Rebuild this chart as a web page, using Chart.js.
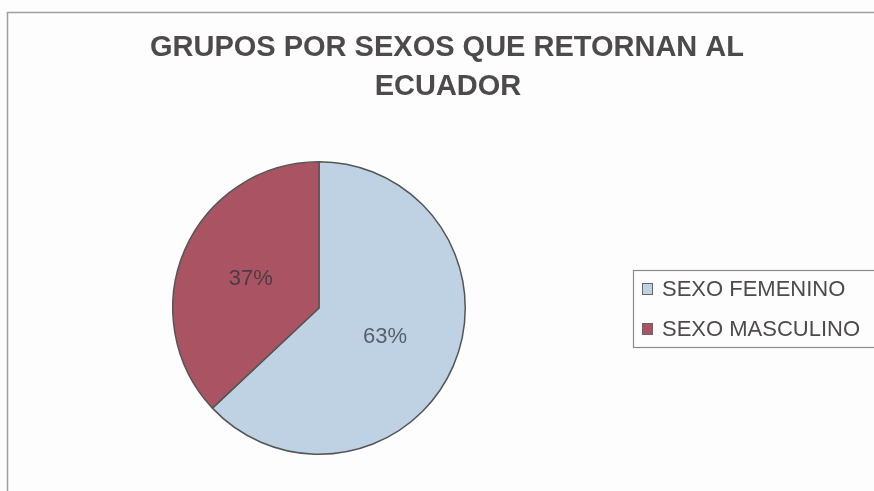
<!DOCTYPE html>
<html>
<head>
<meta charset="utf-8">
<script src="https://cdn.jsdelivr.net/npm/chart.js@4"></script>
<style>
  html, body { margin: 0; padding: 0; background: #fdfdfd; }
  #wrap { width: 874px; height: 491px; position: relative; }
</style>
</head>
<body>
<div id="wrap"><canvas id="pie"></canvas></div>
<script>
const titleLines = ["GRUPOS POR SEXOS QUE RETORNAN AL", "ECUADOR"];
const categories = ["SEXO FEMENINO", "SEXO MASCULINO"];
const shares = [63, 37];
const sliceColors = ["#bed2e4", "#aa5363"];

// frame, title, slice labels and the boxed legend
const decorations = {
    id: 'decorations',
    beforeDraw(chart) {
        const ctx = chart.ctx;
        ctx.save();
        ctx.fillStyle = '#fdfdfd';
        ctx.fillRect(0, 0, chart.width, chart.height);
        ctx.strokeStyle = '#a0a0a0';
        ctx.lineWidth = 1.5;
        ctx.beginPath();
        ctx.moveTo(7.5, 495);
        ctx.lineTo(7.5, 12.5);
        ctx.lineTo(880, 12.5);
        ctx.stroke();
        ctx.fillStyle = '#4e4a4c';
        ctx.font = 'bold 29px "Liberation Sans", Arial, sans-serif';
        ctx.textAlign = 'center';
        ctx.textBaseline = 'alphabetic';
        ctx.fillText(titleLines[0], 447, 56);
        ctx.fillText(titleLines[1], 448, 95);
        ctx.restore();
    },
    afterDraw(chart) {
        const ctx = chart.ctx;
        const meta = chart.getDatasetMeta(0);
        const total = shares.reduce((a, b) => a + b, 0);
        ctx.save();
        ctx.font = '22px "Liberation Sans", Arial, sans-serif';
        ctx.textAlign = 'center';
        ctx.textBaseline = 'middle';
        meta.data.forEach((arc, i) => {
            const p = arc.tooltipPosition();
            ctx.fillStyle = i === 0 ? '#5a5f6a' : '#4a3c44';
            ctx.fillText(Math.round(shares[i] / total * 100) + '%', p.x - 1, p.y);
        });
        // legend
        ctx.strokeStyle = '#8a8a8a';
        ctx.lineWidth = 1.2;
        ctx.strokeRect(633.5, 270.5, 260, 77);
        ctx.font = '22px "Liberation Sans", Arial, sans-serif';
        ctx.textAlign = 'left';
        categories.forEach((name, i) => {
            const y = 289 + i * 40;
            ctx.fillStyle = sliceColors[i];
            ctx.fillRect(642, y - 6, 11, 12);
            ctx.strokeStyle = '#666';
            ctx.lineWidth = 1;
            ctx.strokeRect(642.5, y - 5.5, 10, 11);
            ctx.fillStyle = '#4e4a4c';
            ctx.fillText(name, 662, y + 1);
        });
        ctx.restore();
    }
};

new Chart(document.getElementById('pie'), {
    type: 'pie',
    data: {
        labels: categories,
        datasets: [{
            data: shares,
            backgroundColor: sliceColors,
            borderColor: '#555',
            borderWidth: 1.5
        }]
    },
    options: {
        responsive: true,
        maintainAspectRatio: false,
        animation: false,
        layout: {
            padding: { left: 171, right: 407, top: 161, bottom: 36 }
        },
        plugins: {
            legend: { display: false },
            tooltip: { enabled: false }
        }
    },
    plugins: [decorations]
});
</script>
</body>
</html>
